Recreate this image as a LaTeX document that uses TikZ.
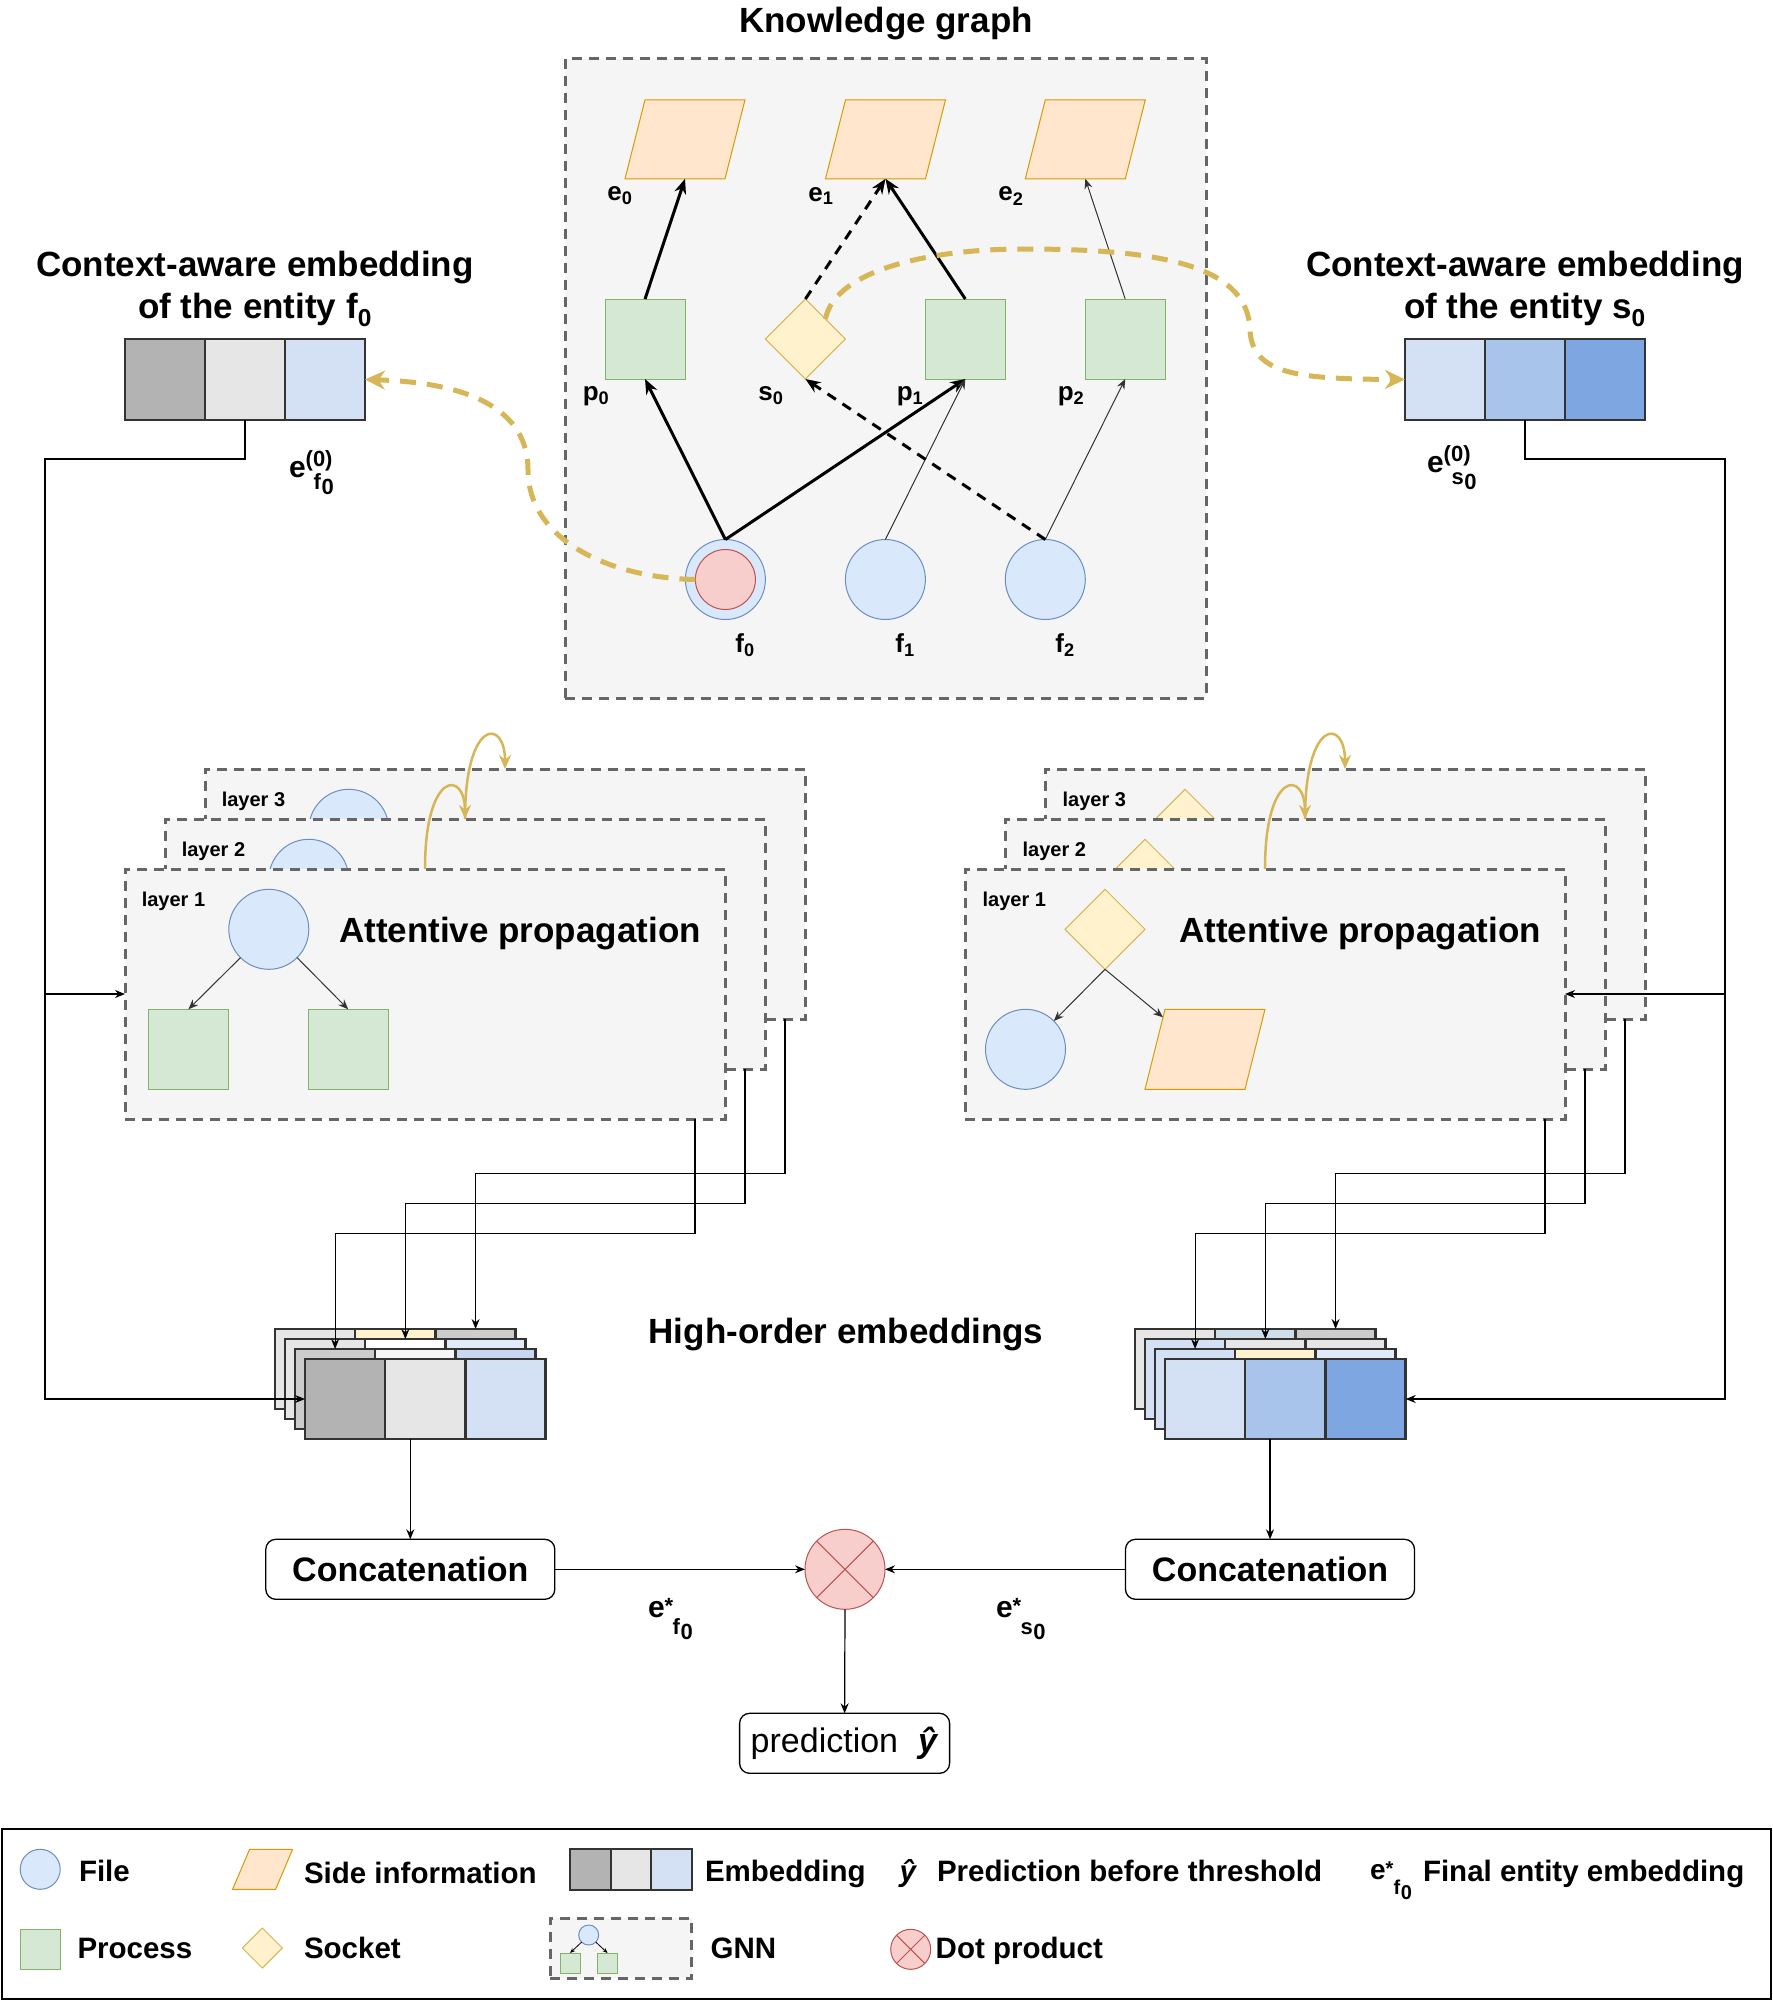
\documentclass[tikz,border=0pt]{standalone}
\usepackage{fontspec}
\setmainfont{Liberation Sans}
\usetikzlibrary{arrows.meta,shapes.geometric}

\definecolor{cbox}{HTML}{F5F5F5}
\definecolor{cdash}{HTML}{666666}
\definecolor{filef}{HTML}{DAE8FC}
\definecolor{files}{HTML}{6C8EBF}
\definecolor{procf}{HTML}{D5E8D4}
\definecolor{procs}{HTML}{82B366}
\definecolor{sockf}{HTML}{FFF2CC}
\definecolor{socks}{HTML}{D6B656}
\definecolor{sidef}{HTML}{FFE6CC}
\definecolor{sides}{HTML}{D79B00}
\definecolor{redf}{HTML}{F8CECC}
\definecolor{reds}{HTML}{B85450}
\definecolor{gold}{HTML}{D6B656}
\definecolor{eline}{HTML}{333333}
\definecolor{darkg}{HTML}{333333}
\definecolor{gA}{HTML}{B3B3B3}
\definecolor{gB}{HTML}{E6E6E6}
\definecolor{gC}{HTML}{CCCCCC}
\definecolor{gD}{HTML}{F5F5F5}
\definecolor{bA}{HTML}{D4E1F5}
\definecolor{bB}{HTML}{A9C4EB}
\definecolor{bC}{HTML}{7EA6E0}
\definecolor{bD}{HTML}{E1EAF7}
\definecolor{bE}{HTML}{C8D6F2}
\definecolor{bF}{HTML}{D0DEE9}
\definecolor{yA}{HTML}{FFF2CC}

\newcommand{\fT}{\fontsize{35}{42}\selectfont\bfseries}
\newcommand{\fC}{\fontsize{34}{40}\selectfont\bfseries}
\newcommand{\fL}{\fontsize{26}{30}\selectfont\bfseries}
\newcommand{\fE}{\fontsize{30}{34}\selectfont\bfseries}
\newcommand{\fS}{\fontsize{20}{24}\selectfont\bfseries}
\newcommand{\fG}{\fontsize{29.5}{34}\selectfont\bfseries}
\newcommand{\fP}{\fontsize{34}{40}\selectfont}

% e with superscript #1, subscript letter #2 and digit #3; #4 script size, #5 sup raise, #6 sub drop
\newcommand{\esx}[6]{e\rlap{\raisebox{#5pt}{\fontsize{#4}{#4}\selectfont #1}}\kern 8pt\raisebox{-#6pt}{\fontsize{#4}{#4}\selectfont #2\kern0.5pt\raisebox{-5pt}{#3}}}

\newcommand{\parlg}[6]{%
  \node[minimum width=#4pt, minimum height=#5pt] (#1) at (#2,#3) {};
  \draw[sidestyle] ([xshift=#6pt]#1.north west) -- (#1.north east) -- ([xshift=-#6pt]#1.south east) -- (#1.south west) -- cycle;}

\newcommand{\stackrow}[7]{%
  \node[scell, fill=#5] (#1#21) at (#3+40.1,#4+40) {};
  \node[scell, fill=#6] (#1#22) at (#3+120.35,#4+40) {};
  \node[scell, fill=#7] (#1#23) at (#3+200.6,#4+40) {};}

\begin{document}
\begin{tikzpicture}[x=1pt,y=-1pt,
  every node/.style={inner sep=0pt,outer sep=0pt},
  dbox/.style={rectangle,draw=cdash,fill=cbox,line width=3pt,dash pattern=on 10pt off 7pt},
  filen/.style={ellipse,draw=files,fill=filef,line width=1pt,minimum width=80pt,minimum height=80pt},
  procn/.style={rectangle,draw=procs,fill=procf,line width=1pt,minimum width=80pt,minimum height=80pt},
  sockn/.style={diamond,draw=socks,fill=sockf,line width=1pt,minimum width=80pt,minimum height=80pt},
  redn/.style={ellipse,draw=reds,fill=redf,line width=1pt,minimum width=80pt,minimum height=80pt},
  sidestyle/.style={draw=sides,fill=sidef,line width=1pt},
  ecell/.style={rectangle,draw=eline,line width=2.5pt,minimum width=80pt,minimum height=81pt},
  scell/.style={rectangle,draw=eline,line width=2.5pt,minimum width=80.25pt,minimum height=80pt},
  tarr/.style={line width=3pt,-{Stealth[length=15pt,width=12pt]}},
  darr/.style={tarr,dash pattern=on 10pt off 8pt},
  narr/.style={draw=darkg,line width=1pt,-{Stealth[length=10pt,width=8pt]}},
  conn/.style={line width=1.2pt,-{Stealth[length=10pt,width=8pt]}},
  gdash/.style={draw=gold,line width=5pt,dash pattern=on 16pt off 11pt,-{Stealth[length=20pt,width=19pt]}},
  garr/.style={draw=gold,line width=2.5pt,-{Stealth[length=14pt,width=12pt]}},
  rbox/.style={rectangle,draw=black,line width=1.3pt,rounded corners=10pt,fill=white,minimum height=60pt},
  lgt/.style={font=\fG,anchor=base west},
]
\fill[white] (0,0) rectangle (1772,2001);
\useasboundingbox (0,0) rectangle (1772,2001);

% ---------------- Knowledge graph ----------------
\node[font=\fT] (kgt) at (886,24) {Knowledge graph};
\node[dbox,minimum width=641pt,minimum height=639pt] (kg) at (885.5,378.5) {};
\parlg{e0}{685}{139.3}{120}{79}{20}
\parlg{e1}{885.5}{139.3}{120}{79}{20}
\parlg{e2}{1085.3}{139.3}{120}{79}{20}
\node[procn] (p0) at (645,339) {};
\node[sockn] (s0) at (805.4,339) {};
\node[procn] (p1) at (965.3,339) {};
\node[procn] (p2) at (1125.2,339) {};
\node[filen] (f0) at (725.4,579.5) {};
\node[redn,minimum width=60pt,minimum height=60pt] (f0in) at (725.4,579.5) {};
\node[filen] (f1) at (885.4,579.5) {};
\node[filen] (f2) at (1045.3,579.5) {};

\node[font=\fL] (le0) at (620,196) {e\textsubscript{0}};
\node[font=\fL] (le1) at (821,196) {e\textsubscript{1}};
\node[font=\fL] (le2) at (1011,196) {e\textsubscript{2}};
\node[font=\fL] (lp0) at (596,396) {p\textsubscript{0}};
\node[font=\fL] (ls0) at (771,396) {s\textsubscript{0}};
\node[font=\fL] (lp1) at (910,396) {p\textsubscript{1}};
\node[font=\fL] (lp2) at (1071,396) {p\textsubscript{2}};
\node[font=\fL] (lf0) at (745,645) {f\textsubscript{0}};
\node[font=\fL] (lf1) at (905,645) {f\textsubscript{1}};
\node[font=\fL] (lf2) at (1065,645) {f\textsubscript{2}};

\draw[tarr] (f0.north) -- (p0.south);
\draw[tarr] (f0.north) -- (p1.south);
\draw[narr] (f1.north) -- (p1.south);
\draw[narr] (f2.north) -- (p2.south);
\draw[darr] (f2.north) -- (s0.south);
\draw[tarr] (p0.north) -- (e0.south);
\draw[darr] (s0.north) -- (e1.south);
\draw[tarr] (p1.north) -- (e1.south);
\draw[narr] (p2.north) -- (e2.south);

% ---------------- top embeddings ----------------
\node[font=\fT,align=center] (ttL) at (255,289) {Context-aware embedding\\of the entity f\textsubscript{0}};
\node[font=\fT,align=center] (ttR) at (1525,289) {Context-aware embedding\\of the entity s\textsubscript{0}};
\node[ecell,fill=gA] (embL1) at (165,379.5) {};
\node[ecell,fill=gB] (embL2) at (245,379.5) {};
\node[ecell,fill=bA] (embL3) at (325,379.5) {};
\node[ecell,fill=bA] (embR1) at (1445,379.5) {};
\node[ecell,fill=bB] (embR2) at (1525,379.5) {};
\node[ecell,fill=bC] (embR3) at (1605,379.5) {};
\node[font=\fE,anchor=base west] (leL) at (289,477) {\esx{(0)}{f}{0}{22}{11}{12}};
\node[font=\fE,anchor=base west] (leR) at (1427,472) {\esx{(0)}{s}{0}{22}{11}{12}};

% ---------------- layers (left) ----------------
\foreach \k in {3,2,1}{
  \pgfmathsetmacro\dx{40*(\k-1)}
  \pgfmathsetmacro\dy{50*(\k-1)}
  \node[dbox,minimum width=600pt,minimum height=250pt] (L\k) at (425+\dx,994-\dy) {};
  \node[filen] (Lc\k) at (268.8+\dx,929.3-\dy) {};
  \node[procn] (Lpa\k) at (188.4+\dx,1049.3-\dy) {};
  \node[procn] (Lpb\k) at (348.2+\dx,1049.3-\dy) {};
  \draw[narr] (Lc\k.south west) -- (Lpa\k.north);
  \draw[narr] (Lc\k.south east) -- (Lpb\k.north);
  \node[font=\fS] (Ll\k) at (173.5+\dx,901.5-\dy) {layer \k};
}
\node[font=\fT] (Lat) at (520,934) {Attentive propagation};

% ---------------- layers (right) ----------------
\foreach \k in {3,2,1}{
  \pgfmathsetmacro\dx{40*(\k-1)}
  \pgfmathsetmacro\dy{50*(\k-1)}
  \node[dbox,minimum width=600pt,minimum height=250pt] (R\k) at (1265+\dx,994-\dy) {};
  \node[sockn] (Rs\k) at (1105+\dx,929.3-\dy) {};
  \node[filen] (Rf\k) at (1025.5+\dx,1049.3-\dy) {};
  \parlg{Re\k}{1205+\dx}{1049.3-\dy}{120}{80}{20}
  \draw[narr] (Rs\k.south) -- (Rf\k.north east);
  \draw[narr] (Rs\k.south) -- ([shift={(18,8)}]Re\k.north west);
  \node[font=\fS] (Rl\k) at (1014.3+\dx,901.5-\dy) {layer \k};
}
\node[font=\fT] (Rat) at (1360,934) {Attentive propagation};

\draw[garr] (L1.north) .. controls (425,770) and (465,770) .. (L2.north);
\draw[garr] (L2.north) .. controls (465,718) and (505,718) .. (L3.north);
\draw[garr] (R1.north) .. controls (1265,770) and (1305,770) .. (R2.north);
\draw[garr] (R2.north) .. controls (1305,718) and (1345,718) .. (R3.north);

% ---------------- stacks ----------------
\stackrow{stL}{0}{275}{1329}{gB}{yA}{gC}
\stackrow{stL}{1}{285}{1339}{gB}{white}{bD}
\stackrow{stL}{2}{295}{1349}{gC}{gD}{bE}
\stackrow{stL}{3}{305}{1359}{gA}{gB}{bA}
\stackrow{stR}{0}{1135}{1329}{gB}{bF}{gC}
\stackrow{stR}{1}{1145}{1339}{bA}{gB}{gB}
\stackrow{stR}{2}{1155}{1349}{bA}{yA}{bD}
\stackrow{stR}{3}{1165}{1359}{bA}{bB}{bC}
\node[font=\fT] (hoe) at (846,1335) {High-order embeddings};

% ---------------- connectors ----------------
\coordinate (jL1) at (45,459);
\coordinate (jL2) at (45,994);
\coordinate (jR1) at (1725,459);
\coordinate (jR2) at (1725,994);
\draw[conn] (embL2.south) |- (jL1) |- (stL31.west);
\draw[conn] (jL2) -- (L1.west);
\draw[conn] (embR2.south) |- (jR1) |- (stR33.east);
\draw[conn] (jR2) -- (R1.east);

\draw[conn] ([xshift=-30pt]L1.south east) -- ++(0,114.6) -| (stL21.north);
\draw[conn] ([xshift=-20pt]L2.south east) -- ++(0,134.5) -| (stL12.north);
\draw[conn] ([xshift=-20pt]L3.south east) -- ++(0,154.6) -| (stL03.north);
\draw[conn] ([xshift=-20pt]R1.south east) -- ++(0,114.6) -| (stR21.north);
\draw[conn] ([xshift=-20pt]R2.south east) -- ++(0,134.5) -| (stR12.north);
\draw[conn] ([xshift=-20pt]R3.south east) -- ++(0,154.6) -| (stR03.north);

% ---------------- bottom ----------------
\node[rbox,minimum width=289pt,font=\fC] (cL) at (410.3,1569.3) {Concatenation};
\node[rbox,minimum width=289pt,font=\fC] (cR) at (1270,1569.3) {Concatenation};
\node[redn] (dot) at (845,1569.3) {};
\draw[reds,line width=1pt] (dot.north west) -- (dot.south east) (dot.north east) -- (dot.south west);
\node[rbox,minimum width=210pt,font=\fP] (pred) at (844.6,1743.3) {prediction\hspace{20pt}\textbf{\textit{ŷ}}};
\node[font=\fE,anchor=base west] (lfs) at (648,1617) {\esx{*}{f}{0}{22}{4}{17}};
\node[font=\fE,anchor=base west] (lss) at (996,1617) {\esx{*}{s}{0}{22}{4}{17}};

\draw[conn] (cL.north |- stL32.south) -- (cL.north);
\draw[conn] (cR.north |- stR32.south) -- (cR.north);
\draw[conn] (cL.east) -- (dot.west);
\draw[conn] (cR.west) -- (dot.east);
\draw[conn] (dot.south) -- (pred.north);

% ---------------- gold dashed curves ----------------
\draw[gdash] (f0in.west) .. controls (610,578) and (528,540) .. (528,470) .. controls (528,400) and (450,382) .. (embL3.east);
\draw[gdash] (s0.north east) .. controls (835,270) and (930,249) .. (1023,249) .. controls (1150,249) and (1248,262) .. (1250,330) .. controls (1252,375) and (1300,379) .. (embR1.west);

% ---------------- legend ----------------
\node[draw=black,line width=2pt,minimum width=1769pt,minimum height=170pt] (leg) at (886,1914) {};
\node[filen,minimum width=40pt,minimum height=40pt] (lgf) at (40.2,1869.3) {};
\node[lgt] (lgft) at (79,1881) {File};
\parlg{lgs}{262.6}{1869.3}{60}{40}{17}
\node[lgt] (lgst) at (304,1883) {Side information};
\node[ecell,fill=gA,minimum width=40.6pt,minimum height=41pt,line width=2pt] (lge1) at (590.3,1869.5) {};
\node[ecell,fill=gB,minimum width=40.6pt,minimum height=41pt,line width=2pt] (lge2) at (630.9,1869.5) {};
\node[ecell,fill=bA,minimum width=40.6pt,minimum height=41pt,line width=2pt] (lge3) at (671.5,1869.5) {};
\node[lgt] (lget) at (705,1881) {Embedding};
\node[font=\fG,anchor=base] (lgy) at (908.5,1881) {\textit{ŷ}};
\node[lgt] (lgyt) at (937,1881) {Prediction before threshold};
\node[font=\fontsize{28}{32}\selectfont\bfseries,anchor=base west] (lgee) at (1370,1879) {\esx{*}{f}{0}{20}{4}{15}};
\node[lgt] (lgeet) at (1423,1881) {Final entity embedding};

\node[procn,minimum width=40pt,minimum height=40pt] (lgp) at (40.2,1949.3) {};
\node[lgt] (lgpt) at (77.5,1958) {Process};
\node[sockn,minimum width=40pt,minimum height=40pt] (lgso) at (262.3,1948) {};
\node[lgt] (lgsot) at (304,1958) {Socket};
\node[dbox,minimum width=141.7pt,minimum height=60pt] (lgg) at (620.9,1948.3) {};
\node[filen,minimum width=20pt,minimum height=20pt] (lggc) at (588.7,1935) {};
\node[procn,minimum width=20pt,minimum height=20pt] (lgga) at (570,1963) {};
\node[procn,minimum width=20pt,minimum height=20pt] (lggb) at (607.6,1963) {};
\draw[line width=0.8pt,-{Stealth[length=5pt,width=4pt]}] (lggc.south west) -- (lgga.north);
\draw[line width=0.8pt,-{Stealth[length=5pt,width=4pt]}] (lggc.south east) -- (lggb.north);
\node[lgt] (lggt) at (710.7,1958) {GNN};
\node[redn,minimum width=40pt,minimum height=40pt] (lgd) at (910.7,1949.3) {};
\draw[reds,line width=1pt] (lgd.north west) -- (lgd.south east) (lgd.north east) -- (lgd.south west);
\node[lgt] (lgdt) at (935.7,1958) {Dot product};
\end{tikzpicture}
\end{document}
